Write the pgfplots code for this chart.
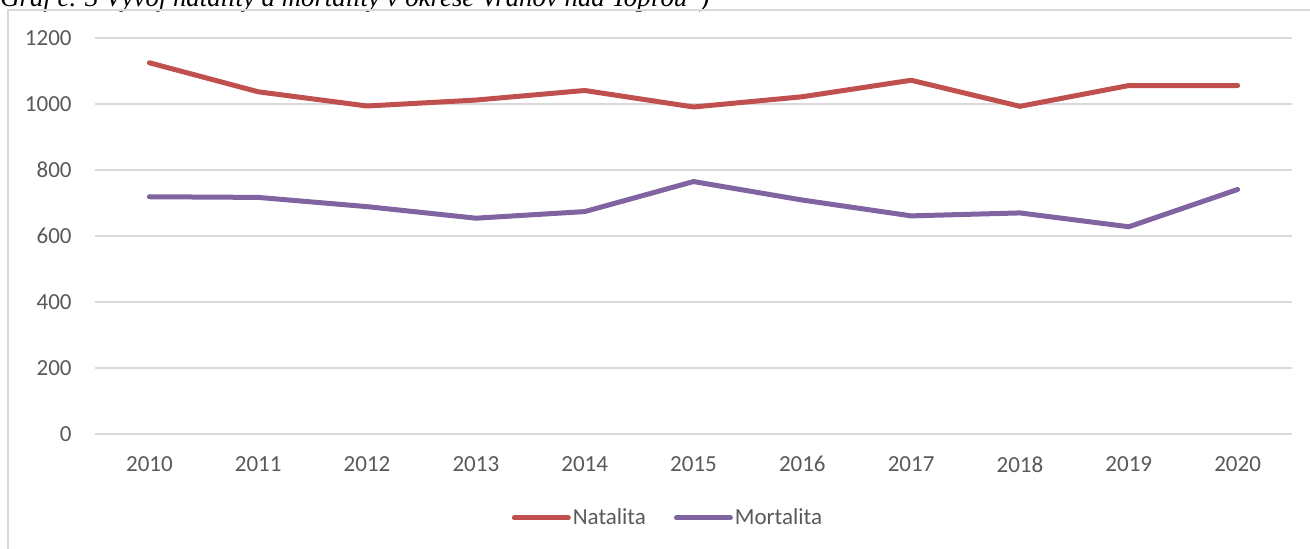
\documentclass[border=0pt]{standalone}
\usepackage{fontspec}
\setmainfont{Carlito}
\newfontfamily\titlefont{Liberation Serif}
\usepackage{pgfplots}
\pgfplotsset{compat=1.18}
\definecolor{natal}{HTML}{C0504D}
\definecolor{mortal}{HTML}{8064A2}
\definecolor{gridgray}{HTML}{D9D9D9}
\definecolor{labgray}{HTML}{595959}
\begin{document}
\begin{tikzpicture}
\path[use as bounding box] (0pt,0pt) rectangle (655pt,-274pt);
\clip (0pt,0pt) rectangle (655pt,-274pt);
\node[anchor=base west, inner sep=0pt, font=\titlefont\itshape\fontsize{13.4}{15}\selectfont] at (0pt,-3.3pt) {Graf č. 3 Vývoj natality a mortality v okrese Vranov nad Topľou*)};
\draw[gridgray, line width=1pt] (4pt,-280pt) -- (4pt,-5pt) -- (670pt,-5pt);
\begin{axis}[
  at={(47.5pt,-217pt)}, anchor=south west,
  width=598.5pt, height=198pt, scale only axis,
  xmin=-0.5, xmax=10.5, ymin=0, ymax=1200,
  ytick={0,200,...,1200},
  xtick={0,...,10},
  xticklabels={2010,2011,2012,2013,2014,2015,2016,2017,2018,2019,2020},
  axis line style={draw=none},
  major tick style={draw=none},
  ymajorgrids, grid style={gridgray, line width=1pt},
  tick label style={font=\fontsize{11.5}{13}\selectfont, text=labgray},
  /pgf/number format/assume math mode=true,
  /pgf/number format/1000 sep={},
  yticklabel style={anchor=east, inner sep=0pt, xshift=-11.5pt},
  xticklabel style={anchor=north, inner sep=0pt, yshift=-11pt},
  legend style={at={(0.4787,-0.212)}, anchor=center, draw=none, fill=none,
    legend columns=2, font=\fontsize{11.5}{13}\selectfont, text=labgray,
    /tikz/every even column/.append style={column sep=13pt},
    inner sep=0pt, nodes={inner sep=1pt}},
  legend image code/.code={\draw[#1, line width=2.5pt, line cap=round] (0pt,0pt) -- (27pt,0pt);},
  every axis plot/.append style={line width=2.5pt, line join=round, line cap=round},
]
\addplot[natal, mark=none] coordinates {
(0,1125) (1,1037) (2,994) (3,1012) (4,1041) (5,991) (6,1022) (7,1072) (8,993) (9,1056) (10,1056)};
\addlegendentry{Natalita}
\addplot[mortal, mark=none] coordinates {
(0,719) (1,717) (2,689) (3,654) (4,674) (5,765) (6,709) (7,661) (8,670) (9,628) (10,741)};
\addlegendentry{Mortalita}
\end{axis}
\end{tikzpicture}
\end{document}
